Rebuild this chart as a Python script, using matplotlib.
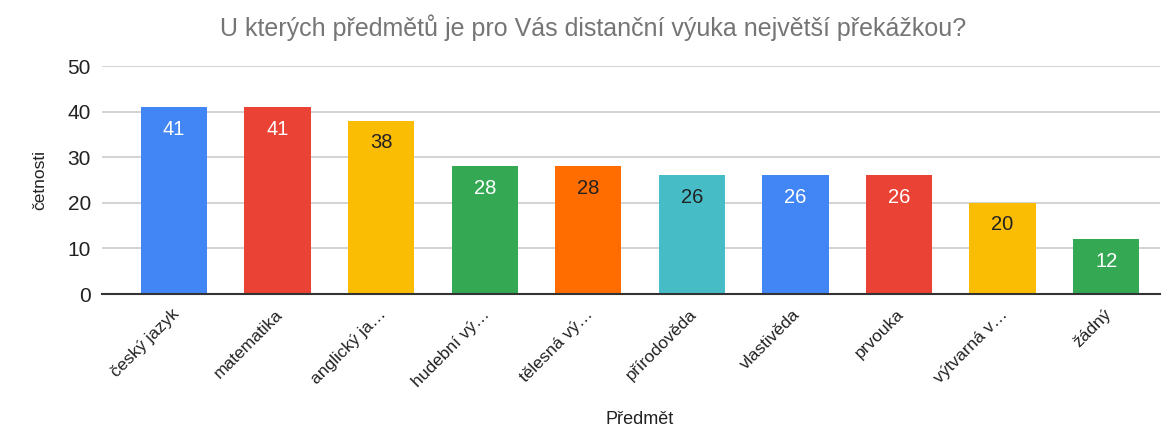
import matplotlib
matplotlib.use("Agg")
import matplotlib.pyplot as plt

categories = ["český jazyk", "matematika", "anglický ja…", "hudební vý…", "tělesná vý…",
              "přírodověda", "vlastivěda", "prvouka", "výtvarná v…", "žádný"]
values = [41, 41, 38, 28, 28, 26, 26, 26, 20, 12]
colors = ["#4285F4", "#EA4335", "#FBBC04", "#34A853", "#FF6D01",
          "#46BDC6", "#4285F4", "#EA4335", "#FBBC04", "#34A853"]
label_colors = ["white", "white", "#222222", "white", "#222222",
                "#222222", "white", "white", "#222222", "white"]
yticks = [0, 10, 20, 30, 40, 50]

plt.rcParams['font.family'] = ['Liberation Sans', 'DejaVu Sans']

fig = plt.figure(figsize=(11.64, 4.28), dpi=100)
ax = fig.add_axes([102/1164, 1-294/428, (1160-102)/1164, (294-66)/428])

x = list(range(len(categories)))
bars = ax.bar(x, values, width=0.64, color=colors, zorder=2)
for xi, v, lc in zip(x, values, label_colors):
    ax.annotate(str(v), (xi, v), xytext=(0, -9), textcoords='offset points',
                ha='center', va='top', fontsize=14.5, color=lc, zorder=3)

ax.set_ylim(0, 50)
ax.set_xlim(-0.695, 9.52)
ax.set_yticks(yticks)
ax.set_yticklabels([str(t) for t in yticks], fontsize=15, color='#222222')
ax.yaxis.grid(True, color='#cccccc', linewidth=1.2, zorder=0)
ax.set_axisbelow(True)
for s in ['top', 'right', 'left']:
    ax.spines[s].set_visible(False)
ax.spines['bottom'].set_color('#333333')
ax.spines['bottom'].set_linewidth(1.5)
ax.spines['bottom'].set_zorder(3)
ax.tick_params(axis='y', length=0, pad=8)
ax.tick_params(axis='x', length=0, pad=9)
ax.set_xticks(x)
ax.set_xticklabels(categories, rotation=45, ha='right', rotation_mode='anchor',
                   fontsize=12.5, color='#222222')
for lbl in ax.get_xticklabels():
    lbl.set_x(lbl.get_position()[0])
import matplotlib.transforms as mtransforms
offset = mtransforms.ScaledTranslation(-2/72, 0, fig.dpi_scale_trans)
for lbl in ax.get_xticklabels():
    lbl.set_transform(lbl.get_transform() + offset)

fig.text(593/1164, 1-28/428, "U kterých předmětů je pro Vás distanční výuka největší překážkou?",
         ha='center', va='center', fontsize=18, color='#757575')
fig.text(640/1164, 1-420/428, "Předmět", ha='center', va='center', fontsize=13, color='#222222')
fig.text(40/1164, 1-180/428, "četnosti", ha='center', va='center', rotation=90,
         fontsize=12.5, color='#222222')

fig.savefig("out.png", dpi=100)
